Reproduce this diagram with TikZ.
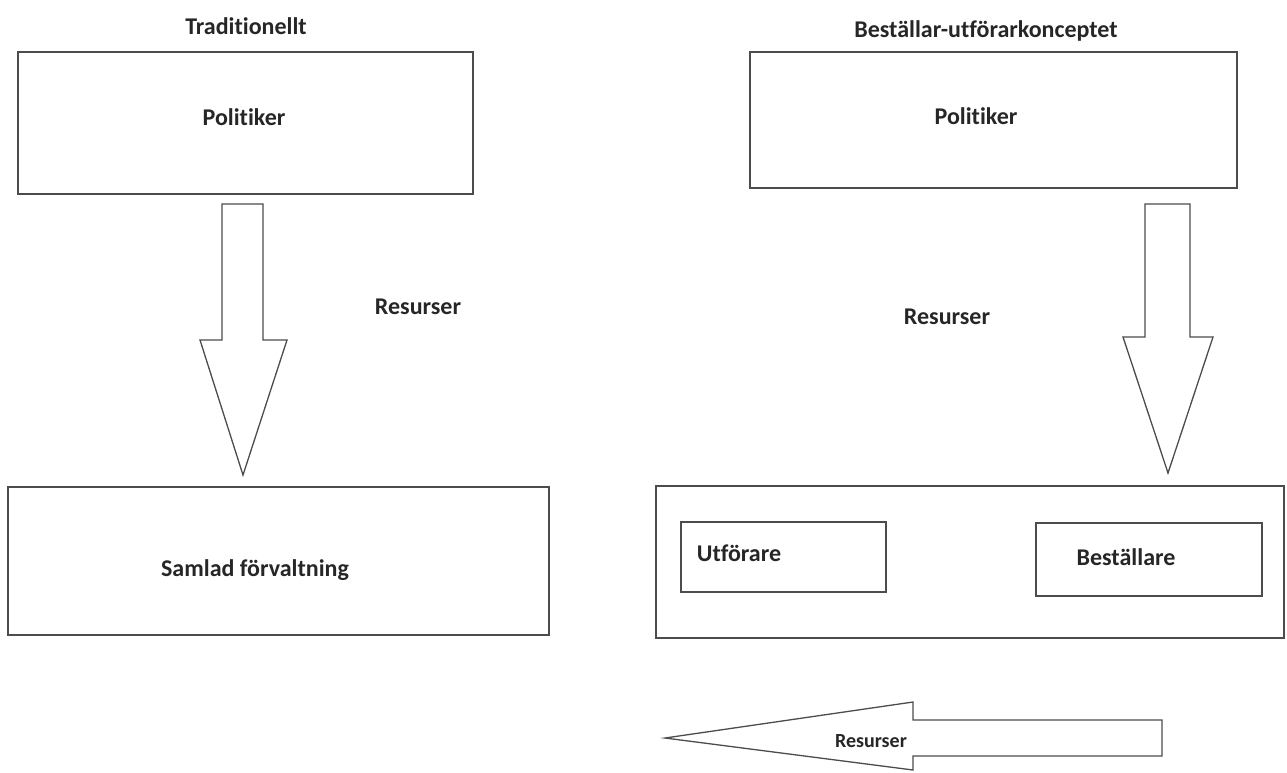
\documentclass[tikz,border=0pt]{standalone}
\usepackage{fontspec}
\setmainfont[Ligatures=NoCommon]{Carlito}
\begin{document}
\begin{tikzpicture}[x=1pt,y=-1pt,
  box/.style={draw=black!70,line width=1.4pt,inner sep=0pt},
  blockarrow/.style={draw=black!70,line width=1.3pt,line join=miter,fill=white},
  lbl/.style={font=\bfseries\fontsize{24}{28}\selectfont,text=black!85,inner sep=0pt},
  small/.style={font=\bfseries\fontsize{20}{24}\selectfont,text=black!85,inner sep=0pt}]
\useasboundingbox (0,0) rectangle (1287,772);
% left side
\node[box,minimum width=455pt,minimum height=142pt] (lpol) at (245.5,123) {};
\node[box,minimum width=541pt,minimum height=148pt] (lsam) at (278.5,561) {};
\draw[blockarrow] (222,204) -- (263,204) -- (263,340) -- (287,340) -- (243,475) -- (200,340) -- (222,340) -- cycle;
\node[lbl] (ltitle) at (246,26) {Traditionellt};
\node[lbl] (lpoltxt) at (244,117) {Politiker};
\node[lbl] (lres) at (418,307) {Resurser};
\node[lbl] (lsamtxt) at (255,570) {Samlad förvaltning};
% right side
\node[box,minimum width=487pt,minimum height=136pt] (rpol) at (993.5,120) {};
\node[box,minimum width=628pt,minimum height=152pt] (rorg) at (970,562) {};
\node[box,minimum width=205pt,minimum height=70pt] (utf) at (783.5,557) {};
\node[box,minimum width=226pt,minimum height=73pt] (best) at (1149,559.5) {};
\draw[blockarrow] (1145,204) -- (1190,204) -- (1190,337) -- (1213,337) -- (1168,473) -- (1123,337) -- (1145,337) -- cycle;
\draw[blockarrow] (1162,720) -- (913,720) -- (913,702) -- (665,738) -- (913,770) -- (913,756) -- (1162,756) -- cycle;
\node[lbl] (rtitle) at (986,31) {Beställar-utförarkonceptet};
\node[lbl] (rpoltxt) at (976,116) {Politiker};
\node[lbl] (rres) at (947,317) {Resurser};
\node[lbl] (utftxt) at (739,553) {Utförare};
\node[lbl] (besttxt) at (1126,557) {Beställare};
\node[small] (bres) at (871,741) {Resurser};
\end{tikzpicture}
\end{document}
